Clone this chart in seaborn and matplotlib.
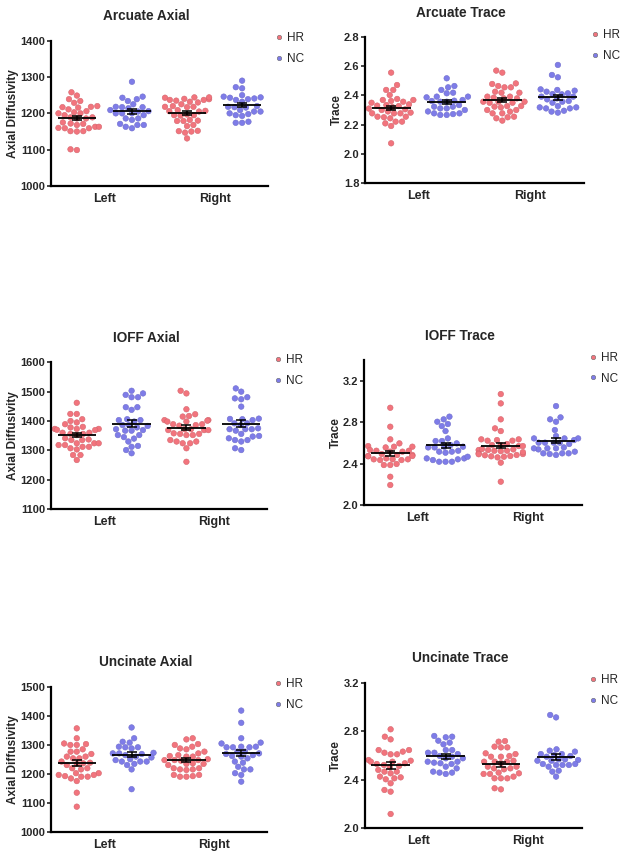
import warnings
import numpy as np
import pandas as pd
import matplotlib
matplotlib.use("Agg")
import matplotlib.pyplot as plt
import matplotlib.colors as mcolors
import seaborn as sns

warnings.filterwarnings("ignore")

# ---- data ----
sides = ["Left", "Right"]
groups = ["HR", "NC"]

arcuate_axial_hr_left = [1258, 1249, 1239, 1234, 1229, 1220, 1216, 1217, 1218, 1211, 1206, 1203, 1200, 1200,
                         1195, 1189, 1186, 1189, 1186, 1175, 1172, 1171, 1168, 1159, 1159, 1163, 1160, 1163,
                         1151, 1150, 1151, 1099, 1101]
arcuate_axial_nc_left = [1287, 1243, 1246, 1239, 1234, 1217, 1225, 1218, 1217, 1214, 1206, 1209, 1205, 1200,
                         1195, 1200, 1200, 1186, 1182, 1186, 1168, 1168, 1171, 1159, 1163]
arcuate_axial_hr_right = [1243, 1244, 1239, 1244, 1235, 1230, 1237, 1232, 1237, 1218, 1220, 1217, 1218, 1209,
                          1205, 1206, 1207, 1197, 1195, 1194, 1195, 1179, 1179, 1180, 1182, 1165, 1168, 1151,
                          1150, 1147, 1152, 1131, 1225, 1240]
arcuate_axial_nc_right = [1290, 1269, 1272, 1244, 1250, 1246, 1243, 1241, 1237, 1239, 1232, 1218, 1216, 1220,
                          1217, 1205, 1209, 1205, 1200, 1198, 1193, 1195, 1174, 1177, 1174]

arcuate_trace_hr_left = [2.557, 2.472, 2.438, 2.438, 2.403, 2.376, 2.362, 2.369, 2.357, 2.369, 2.334, 2.330,
                         2.327, 2.339, 2.277, 2.282, 2.305, 2.277, 2.277, 2.254, 2.243, 2.250, 2.254, 2.220,
                         2.208, 2.190, 2.220, 2.071, 2.31, 2.30, 2.29, 2.32, 2.35]
arcuate_trace_nc_left = [2.518, 2.456, 2.465, 2.438, 2.415, 2.419, 2.392, 2.387, 2.392, 2.369, 2.357, 2.364,
                         2.362, 2.357, 2.323, 2.323, 2.311, 2.334, 2.311, 2.277, 2.266, 2.277, 2.266, 2.272,
                         2.29, 2.30]
arcuate_trace_hr_right = [2.571, 2.557, 2.479, 2.456, 2.465, 2.456, 2.483, 2.426, 2.419, 2.419, 2.392, 2.380,
                          2.385, 2.392, 2.380, 2.357, 2.350, 2.357, 2.350, 2.357, 2.323, 2.327, 2.318, 2.327,
                          2.300, 2.289, 2.277, 2.277, 2.300, 2.254, 2.243, 2.227, 2.250]
arcuate_trace_nc_right = [2.610, 2.525, 2.541, 2.442, 2.438, 2.426, 2.433, 2.410, 2.408, 2.415, 2.392, 2.380,
                          2.392, 2.373, 2.357, 2.362, 2.350, 2.318, 2.311, 2.318, 2.311, 2.295, 2.289, 2.282,
                          2.327]

ioff_axial_hr_left = [1462, 1424, 1424, 1406, 1400, 1395, 1389, 1373, 1373, 1378, 1373, 1369, 1360, 1356, 1360,
                      1352, 1356, 1341, 1337, 1335, 1335, 1324, 1318, 1324, 1324, 1318, 1312, 1307, 1303, 1312,
                      1284, 1284, 1267, 1370, 1380]
ioff_axial_nc_left = [1494, 1481, 1481, 1489, 1503, 1447, 1447, 1438, 1403, 1406, 1403, 1398, 1383, 1386, 1378,
                      1386, 1369, 1367, 1367, 1372, 1352, 1352, 1312, 1315, 1290, 1301, 1340, 1345, 1330]
ioff_axial_hr_right = [1503, 1494, 1440, 1417, 1415, 1423, 1403, 1403, 1398, 1398, 1401, 1389, 1386, 1384, 1389,
                       1369, 1369, 1372, 1372, 1369, 1356, 1352, 1356, 1352, 1358, 1330, 1335, 1330, 1324, 1307,
                       1261, 1324]
ioff_axial_nc_right = [1511, 1500, 1477, 1481, 1474, 1449, 1407, 1403, 1406, 1408, 1392, 1392, 1386, 1372, 1375,
                       1367, 1372, 1372, 1356, 1349, 1347, 1335, 1335, 1341, 1330, 1301, 1307]

ioff_trace_hr_left = [2.939, 2.756, 2.634, 2.569, 2.563, 2.556, 2.563, 2.595, 2.524, 2.515, 2.531, 2.524, 2.515,
                      2.483, 2.473, 2.492, 2.483, 2.473, 2.441, 2.434, 2.441, 2.441, 2.434, 2.386, 2.396, 2.386,
                      2.273, 2.193, 2.47, 2.45]
ioff_trace_nc_left = [2.853, 2.827, 2.804, 2.782, 2.762, 2.714, 2.643, 2.618, 2.595, 2.618, 2.563, 2.556, 2.563,
                      2.579, 2.556, 2.515, 2.515, 2.524, 2.505, 2.441, 2.450, 2.466, 2.450, 2.434, 2.418, 2.418,
                      2.418]
ioff_trace_hr_right = [3.071, 2.981, 2.827, 2.714, 2.740, 2.634, 2.621, 2.627, 2.621, 2.634, 2.579, 2.569, 2.579,
                       2.569, 2.589, 2.531, 2.524, 2.537, 2.524, 2.531, 2.492, 2.473, 2.466, 2.483, 2.409, 2.225,
                       2.51, 2.50, 2.49, 2.52, 2.48, 2.54, 2.47, 2.46]
ioff_trace_nc_right = [2.955, 2.846, 2.827, 2.804, 2.724, 2.666, 2.643, 2.643, 2.627, 2.643, 2.602, 2.602, 2.602,
                       2.589, 2.602, 2.547, 2.556, 2.547, 2.537, 2.547, 2.499, 2.492, 2.483, 2.499, 2.499, 2.515]

uncinate_axial_hr_left = [1357, 1323, 1285, 1303, 1300, 1300, 1305, 1277, 1269, 1277, 1254, 1260, 1260, 1254,
                          1231, 1237, 1239, 1243, 1235, 1203, 1216, 1220, 1220, 1197, 1193, 1191, 1197, 1191,
                          1203, 1176, 1185, 1136, 1088]
uncinate_axial_nc_left = [1360, 1323, 1308, 1311, 1294, 1292, 1288, 1292, 1271, 1269, 1271, 1273, 1265, 1243,
                          1248, 1251, 1243, 1243, 1231, 1235, 1216, 1148, 1257, 1260]
uncinate_axial_hr_right = [1319, 1323, 1294, 1303, 1300, 1285, 1277, 1288, 1271, 1265, 1260, 1260, 1262, 1248,
                           1251, 1248, 1248, 1246, 1235, 1237, 1231, 1235, 1216, 1220, 1214, 1216, 1220, 1197,
                           1191, 1191, 1193, 1197]
uncinate_axial_nc_right = [1418, 1376, 1323, 1308, 1305, 1292, 1294, 1292, 1294, 1292, 1271, 1277, 1269, 1277,
                           1262, 1265, 1243, 1239, 1216, 1225, 1216, 1203, 1197, 1174, 1254, 1260]

uncinate_trace_hr_left = [2.816, 2.755, 2.733, 2.645, 2.645, 2.610, 2.623, 2.632, 2.610, 2.549, 2.557, 2.563,
                          2.549, 2.536, 2.522, 2.514, 2.530, 2.503, 2.481, 2.467, 2.453, 2.467, 2.412, 2.420,
                          2.404, 2.371, 2.316, 2.302, 2.118, 2.426]
uncinate_trace_nc_left = [2.755, 2.761, 2.750, 2.706, 2.692, 2.722, 2.645, 2.623, 2.645, 2.612, 2.623, 2.590,
                          2.577, 2.596, 2.577, 2.541, 2.530, 2.549, 2.536, 2.549, 2.494, 2.459, 2.448, 2.459,
                          2.467, 2.508]
uncinate_trace_hr_right = [2.719, 2.714, 2.673, 2.667, 2.667, 2.618, 2.612, 2.590, 2.590, 2.596, 2.549, 2.557,
                           2.549, 2.549, 2.536, 2.508, 2.494, 2.508, 2.486, 2.494, 2.453, 2.448, 2.459, 2.448,
                           2.412, 2.412, 2.412, 2.321, 2.330, 2.426]
uncinate_trace_nc_right = [2.914, 2.934, 2.640, 2.632, 2.651, 2.604, 2.612, 2.590, 2.612, 2.596, 2.563, 2.568,
                           2.557, 2.568, 2.557, 2.522, 2.530, 2.522, 2.530, 2.522, 2.475, 2.467, 2.426, 2.508]

panels = [
    ("Arcuate Axial", "Axial Diffusivity", (1000, 1400), [1000, 1100, 1200, 1300, 1400], "{:.0f}",
     [arcuate_axial_hr_left, arcuate_axial_nc_left, arcuate_axial_hr_right, arcuate_axial_nc_right]),
    ("Arcuate Trace", "Trace", (1.8, 2.8), [1.8, 2.0, 2.2, 2.4, 2.6, 2.8], "{:.1f}",
     [arcuate_trace_hr_left, arcuate_trace_nc_left, arcuate_trace_hr_right, arcuate_trace_nc_right]),
    ("IOFF Axial", "Axial Diffusivity", (1100, 1600), [1100, 1200, 1300, 1400, 1500, 1600], "{:.0f}",
     [ioff_axial_hr_left, ioff_axial_nc_left, ioff_axial_hr_right, ioff_axial_nc_right]),
    ("IOFF Trace", "Trace", (2.0, 3.4), [2.0, 2.4, 2.8, 3.2], "{:.1f}",
     [ioff_trace_hr_left, ioff_trace_nc_left, ioff_trace_hr_right, ioff_trace_nc_right]),
    ("Uncinate Axial", "Axial Diffusivity", (1000, 1500), [1000, 1100, 1200, 1300, 1400, 1500], "{:.0f}",
     [uncinate_axial_hr_left, uncinate_axial_nc_left, uncinate_axial_hr_right, uncinate_axial_nc_right]),
    ("Uncinate Trace", "Trace", (2.0, 3.2), [2.0, 2.4, 2.8, 3.2], "{:.1f}",
     [uncinate_trace_hr_left, uncinate_trace_nc_left, uncinate_trace_hr_right, uncinate_trace_nc_right]),
]

# axes rectangles in pixels: left, top, right, bottom (figure is 624 x 856)
W, H = 624, 856
boxes = [
    (51, 40.7, 268, 186),
    (365, 37.3, 584, 182.7),
    (51, 362.3, 267, 509),
    (364.3, 360, 582, 505),
    (51, 686.7, 267, 832.3),
    (364.7, 682.7, 582, 828.3),
]

palette = {"HR": "#F2747D", "NC": "#7E7CE8"}

sns.set_style("white")
plt.rcParams["font.family"] = ["Liberation Sans", "DejaVu Sans"]

fig = plt.figure(figsize=(W / 100, H / 100), dpi=100)

# one column per side/group combination
conds = [f"{s} {g}" for s in sides for g in groups]

for (title, ylabel, ylim, yticks, fmt, series), (l, t, r, b) in zip(panels, boxes):
    ax = fig.add_axes([l / W, 1 - b / H, (r - l) / W, (b - t) / H])

    rows = []
    for (side, grp), vals in zip([(s, g) for s in sides for g in groups], series):
        rows += [{"cond": f"{side} {grp}", "group": grp, "value": v} for v in vals]
    df = pd.DataFrame(rows)

    sns.swarmplot(data=df, x="cond", y="value", hue="group", order=conds, hue_order=groups,
                  palette=palette, size=4.0, linewidth=0.4, ax=ax, zorder=2)
    for coll in ax.collections:
        fc = coll.get_facecolor()
        if len(fc):
            r_, g_, b_ = mcolors.to_rgb(fc[0])
            coll.set_edgecolor((r_ * 0.88, g_ * 0.88, b_ * 0.88))

    # mean +/- SEM
    for k, cond in enumerate(conds):
        v = df[df.cond == cond]["value"].to_numpy()
        m = v.mean()
        se = v.std(ddof=1) / np.sqrt(len(v))
        ax.hlines(m, k - 0.35, k + 0.35, color="black", lw=1.3, zorder=4)
        ax.errorbar(k, m, yerr=se, color="black", capsize=3.5, elinewidth=1.1,
                    capthick=1.1, fmt="none", zorder=4)

    ax.set_xlim(-0.47, 3.47)
    ax.set_ylim(*ylim)
    ax.set_yticks(yticks)
    ax.set_yticklabels([fmt.format(y) for y in yticks], fontsize=8, fontweight="bold")
    ax.set_xticks([0.5, 2.5])
    ax.set_xticklabels(sides, fontsize=9, fontweight="bold")
    ax.tick_params(axis="y", direction="out", length=3, width=1.2, pad=1, left=True)
    ax.tick_params(axis="x", length=0, pad=5)
    ax.set_xlabel("")
    ax.set_ylabel(ylabel, fontsize=8.5, fontweight="bold", labelpad=1)
    for s in ["top", "right"]:
        ax.spines[s].set_visible(False)
    for s in ["left", "bottom"]:
        ax.spines[s].set_linewidth(1.6)
        ax.spines[s].set_color("black")

    ax.text(0.44, 1 + 24.5 / (b - t), title, transform=ax.transAxes, ha="center", va="center",
            fontsize=9.8, fontweight="bold")

    handles, labels = ax.get_legend_handles_labels()
    ax.legend(handles, labels, loc="upper left", bbox_to_anchor=(1.0, 1.09), frameon=False,
              handletextpad=0.2, labelspacing=0.75, borderaxespad=0, handlelength=1.0,
              markerscale=0.8, fontsize=8.5)

fig.savefig("out.png", dpi=100)
